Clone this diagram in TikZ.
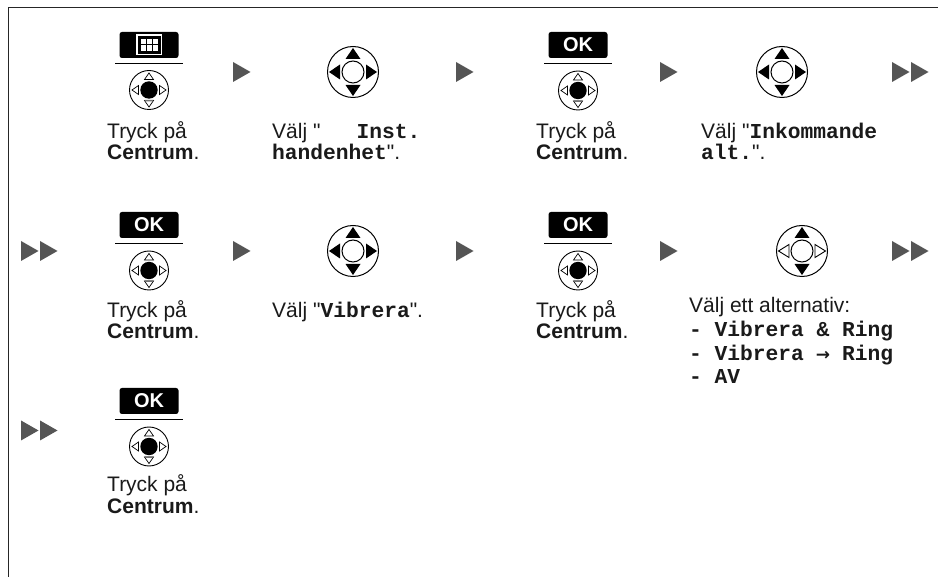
\documentclass[tikz,border=0pt]{standalone}
\usepackage{fontspec}
\setmainfont[Ligatures=TeXOff]{Liberation Sans}
\setmonofont[Scale=1.012]{Liberation Mono}
\definecolor{inkk}{HTML}{1A1A1A}
\definecolor{arrowgrey}{HTML}{555555}
\tikzset{x=1pt,y=-1pt,
 txt/.style={anchor=base west,inner sep=0pt,font=\fontsize{21}{24}\selectfont,text=inkk},
 tri/.style={fill=arrowgrey,draw=none},
 keybox/.style={fill=black,rounded corners=2.5pt,draw=none,minimum width=59pt,minimum height=26pt,inner sep=0pt,text=white,font=\bfseries\fontsize{20}{20}\selectfont}}
\newcommand{\mon}[1]{{\ttfamily\bfseries #1}}
\newcommand{\arr}[2]{\fill[tri,shift={(#1,#2)}] (0,-10)--(17.5,0)--(0,10)--cycle;}
\newcommand{\dbl}[2]{\fill[tri,shift={(#1,#2)}] (0,-10)--(17.5,0)--(0,10)--cycle (19,-10)--(36.5,0)--(19,10)--cycle;}
\begin{document}
\begin{tikzpicture}
\useasboundingbox (0,0) rectangle (938,577);
\fill[white] (0,0) rectangle (938,577);
\draw[line width=1pt,black!85] (8,577)--(8,8)--(938,8);
\def\bigpad#1#2#3{%
 \begin{scope}[shift={(#1,#2)}]
 \draw[line width=1pt] (0,0) circle (25.5);
 \draw[line width=1pt] (0,0) circle (11);
 \ifnum#3=1
 \fill (-24,0)--(-13,-7.5)--(-13,7.5)--cycle;
 \fill (24,0)--(13,-7.5)--(13,7.5)--cycle;
 \else
 \draw[line width=0.9pt] (-23.5,0)--(-13,-6.5)--(-13,6.5)--cycle;
 \draw[line width=0.9pt] (23.5,0)--(13,-6.5)--(13,6.5)--cycle;
 \fi
 \fill (0,-24)--(-7.5,-13)--(7.5,-13)--cycle;
 \fill (0,24)--(-7.5,13)--(7.5,13)--cycle;
 \end{scope}}
\def\smallpad#1#2{%
 \begin{scope}[shift={(#1,#2)}]
 \draw[line width=0.9pt] (0,0) circle (19.5);
 \draw[line width=0.7pt] (-17,0)--(-10.5,-4.5)--(-10.5,4.5)--cycle;
 \draw[line width=0.7pt] (17,0)--(10.5,-4.5)--(10.5,4.5)--cycle;
 \draw[line width=0.7pt] (0,-17)--(-4.5,-10.5)--(4.5,-10.5)--cycle;
 \draw[line width=0.7pt] (0,17)--(-4.5,10.5)--(4.5,10.5)--cycle;
 \fill[black!55] (-4.5,10)--(4.5,10)--(3.5,11.5)--(-3.5,11.5)--cycle;
 \fill (0,0) circle (8.7);
 \end{scope}}
\def\okkey#1#2#3{%
 \node[keybox] (#3) at (#1,#2) {OK};
 \draw[line width=1.5pt] (#1-34,#2+18.5)--(#1+34,#2+18.5);
 \smallpad{#1}{#2+45.5}}
% Row 1
\node[keybox] (k1) at (149,45) {};
\draw[line width=1.2pt,white] (137,35) rectangle (161.5,54.5);
\fill[white] (140.5,38) rectangle (158,51.5);
\draw[line width=0.9pt,black] (140.5,38) rectangle (158,51.5);
\draw[line width=0.8pt,black] (140.5,44.8)--(158,44.8) (146.3,38)--(146.3,51.5) (152.2,38)--(152.2,51.5);
\draw[line width=1.5pt] (115,63.5)--(183,63.5);
\smallpad{149}{90}
\node[txt] (t1) at (107,138.5) {Tryck på};
\node[txt] (t1b) at (107,159.5) {\textbf{Centrum}.};
\arr{233}{72}
\bigpad{353}{72}{1}
\node[txt] (t2) at (272,138.5) {Välj "\hspace{36pt}\mon{Inst.}};
\node[txt] (t2b) at (272,159.5) {\mon{handenhet}".};
\arr{456}{72}
\okkey{578}{45}{k3}
\node[txt] (t3) at (536,138.5) {Tryck på};
\node[txt] (t3b) at (536,159.5) {\textbf{Centrum}.};
\arr{660}{72}
\bigpad{782}{72}{1}
\node[txt] (t4) at (701,138.5) {Välj "\mon{Inkommande}};
\node[txt] (t4b) at (701,159.5) {\mon{alt.}".};
\dbl{892}{72}
% Row 2
\dbl{21}{251}
\okkey{149}{225}{k5}
\node[txt] (t5) at (107,318) {Tryck på};
\node[txt] (t5b) at (107,338.5) {\textbf{Centrum}.};
\arr{233}{251}
\bigpad{353}{251}{1}
\node[txt] (t6) at (272,318) {Välj "\mon{Vibrera}".};
\arr{456}{251}
\okkey{578}{225}{k7}
\node[txt] (t7) at (536,318) {Tryck på};
\node[txt] (t7b) at (536,338.5) {\textbf{Centrum}.};
\arr{660}{251}
\bigpad{802}{251}{0}
\node[txt] (t8) at (689,313) {Välj ett alternativ:};
\node[txt] (t8b) at (689,337) {\mon{- Vibrera \& Ring}};
\node[txt] (t8c) at (689,361) {\mon{- Vibrera \makebox[12.75pt][c]{\fontspec{DejaVu Sans}\fontsize{17}{17}\selectfont\symbol{"2192}} Ring}};
\node[txt] (t8d) at (689,384) {\mon{- AV}};
\dbl{892}{251}
% Row 3
\dbl{21}{430.5}
\okkey{149}{401}{k9}
\node[txt] (t9) at (107,492) {Tryck på};
\node[txt] (t9b) at (107,513) {\textbf{Centrum}.};
\end{tikzpicture}
\end{document}
